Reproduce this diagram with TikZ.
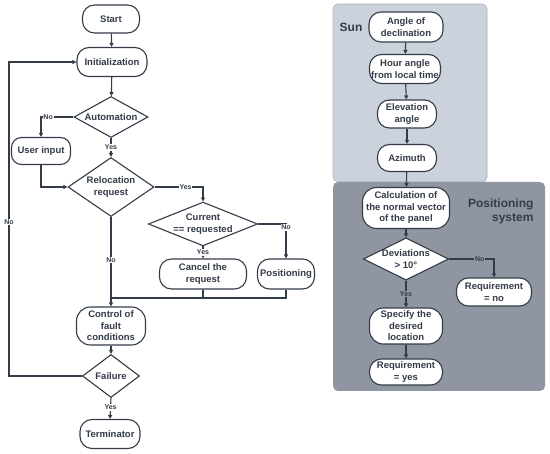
\documentclass[tikz,border=0pt]{standalone}
\usepackage{fontspec}
\setmainfont{Liberation Sans}
\usetikzlibrary{shapes.geometric,arrows.meta}
\definecolor{ink}{HTML}{333C48}
\definecolor{sunfill}{HTML}{CBD2DC}
\definecolor{sunline}{HTML}{A9B1BC}
\definecolor{posfill}{HTML}{8F96A2}
\begin{document}
\begin{tikzpicture}[x=1pt,y=-1pt,
  every node/.style={font=\bfseries\fontsize{9.5}{11.5}\selectfont, text=ink},
  term/.style={draw=ink, line width=1.1pt, fill=white, rounded corners=12pt, align=center, inner sep=0.5pt},
  dec/.style={draw=ink, line width=1.1pt, fill=white, diamond, align=center, inner sep=0pt},
  arr/.style={draw=ink, line width=1.1pt, -{Triangle[length=4pt,width=4pt]}},
  ln/.style={draw=ink, line width=1.1pt},
  lbl/.style={font=\bfseries\fontsize{7}{8}\selectfont, fill=white, inner sep=0.8pt},
  plbl/.style={lbl, fill=posfill},
  paneltitle/.style={font=\bfseries\fontsize{12}{14}\selectfont}]
\useasboundingbox (0,0) rectangle (550,454);

% panels
\filldraw[fill=sunfill, draw=sunline, line width=0.6pt, rounded corners=5pt] (333,4) rectangle (487,182);
\fill[posfill, rounded corners=5pt] (333,182) rectangle (545,391);
\node[paneltitle] (sunlbl) at (351,27) {Sun};
\node[paneltitle, align=right, anchor=east] (poslbl) at (537,211) {Positioning\\system};

% left flowchart
\node[term, minimum width=57, minimum height=28] (start) at (111,19) {Start};
\node[term, minimum width=70, minimum height=29] (init) at (112,62) {Initialization};
\node[dec, shape aspect=1.8, minimum width=74, minimum height=41] (auto) at (111,117) {Automation};
\node[term, minimum width=59, minimum height=27, rounded corners=10pt] (user) at (41,151) {User input};
\node[dec, shape aspect=1.46, minimum width=86, minimum height=59] (reloc) at (111,187) {Relocation\\request};
\node[dec, shape aspect=2.49, minimum width=107, minimum height=43] (curr) at (203,224) {Current\\== requested};
\node[term, minimum width=87, minimum height=30] (cancel) at (203,274) {Cancel the\\request};
\node[term, minimum width=57, minimum height=30] (posi) at (286,274) {Positioning};
\node[term, minimum width=69, minimum height=38, rounded corners=14pt] (ctrl) at (111,326) {Control of\\fault\\conditions};
\node[dec, shape aspect=1.33, minimum width=57, minimum height=43] (fail) at (111,376) {Failure};
\node[term, minimum width=60, minimum height=29] (termi) at (110,434) {Terminator};

\coordinate (merge) at (111,298);
\coordinate (loop) at (9,376);

\draw[arr] (start) -- (init);
\draw[arr] (init) -- (auto);
\draw[arr] (auto.west) -| node[lbl, pos=0.39] {No} (user.north);
\draw[arr] (auto.south) -- node[lbl] {Yes} (reloc.north);
\draw[arr] (user.south) |- (reloc.west);
\draw[arr] (reloc.east) -| node[lbl, pos=0.32] {Yes} (curr.north);
\draw[arr] (curr.east) -| node[lbl, pos=0.55] {No} (posi.north);
\draw[arr] (curr.south) -- node[lbl] {Yes} (cancel.north);
\draw[arr] (reloc.south) -- node[lbl, pos=0.48] {No} (ctrl.north);
\draw[ln] (posi.south) |- (merge);
\draw[ln] (cancel.south) -- (cancel.south |- merge);
\draw[arr] (ctrl) -- (fail);
\draw[arr] (fail.west) -- (loop) |- node[lbl, pos=0.245] {No} (init.west);
\draw[arr] (fail.south) -- node[lbl, pos=0.45] {Yes} (termi.north);

% right flowchart
\node[term, minimum width=74, minimum height=30] (decl) at (406,27) {Angle of\\declination};
\node[term, minimum width=71, minimum height=29, inner sep=0pt] (hour) at (405,69) {Hour angle\\from local time};
\node[term, minimum width=59, minimum height=28] (elev) at (407,114) {Elevation\\angle};
\node[term, minimum width=59, minimum height=27] (azim) at (407,158) {Azimuth};
\node[term, minimum width=87, minimum height=41, inner sep=0pt, rounded corners=14pt] (calc) at (406,208) {Calculation of\\the normal vector\\of the panel};
\node[dec, shape aspect=2.02, minimum width=85, minimum height=42] (dev) at (406,259) {Deviations\\> 10°};
\node[term, minimum width=75, minimum height=28] (reqno) at (494,292) {Requirement\\= no};
\node[term, minimum width=73, minimum height=36, rounded corners=14pt] (spec) at (406,326) {Specify the\\desired\\location};
\node[term, minimum width=73, minimum height=26] (reqyes) at (406,372) {Requirement\\= yes};

\draw[arr] (decl) -- (hour);
\draw[arr] (hour) -- (elev);
\draw[arr] (elev) -- (azim);
\draw[arr] (azim) -- (calc);
\draw[arr] (calc) -- (dev);
\draw[arr] (dev.east) -| node[plbl, pos=0.34] {No} (reqno.north);
\draw[arr] (dev.south) -- node[plbl] {Yes} (spec.north);
\draw[arr] (spec) -- (reqyes);
\end{tikzpicture}
\end{document}
